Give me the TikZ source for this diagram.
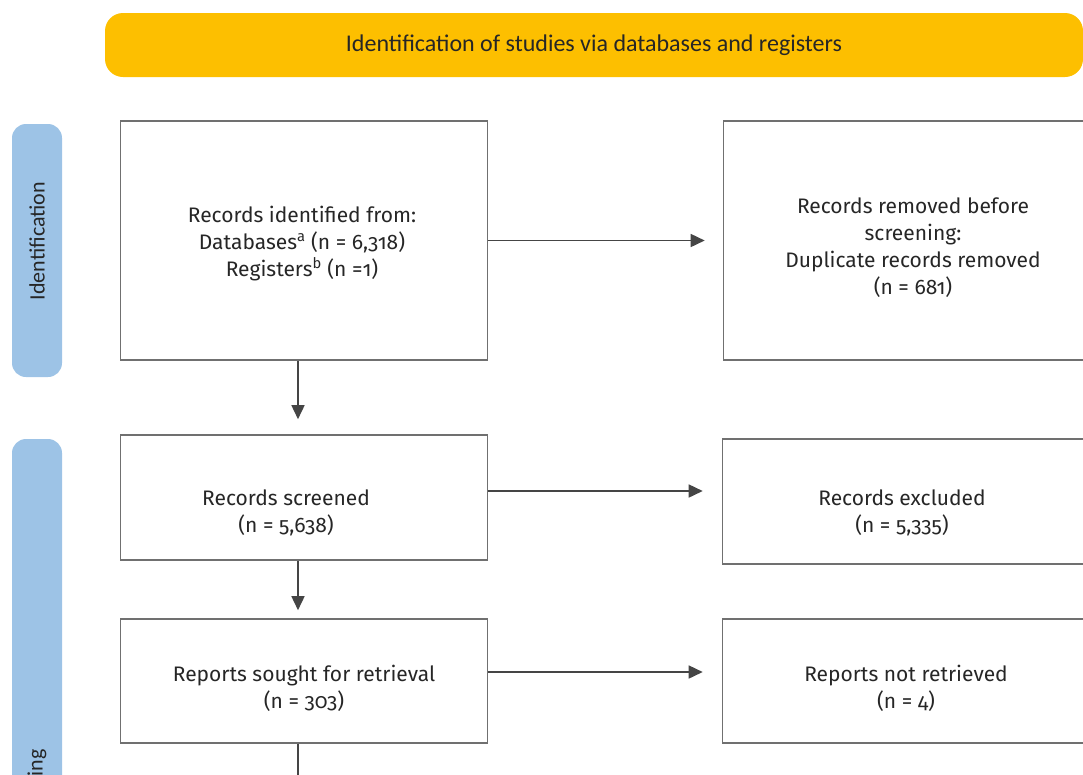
\documentclass[tikz,border=0pt]{standalone}
\usepackage{fontspec}
\setmainfont{Fira Sans}[Numbers=OldStyle]
\newfontfamily\phasefont{Carlito}
\usetikzlibrary{arrows.meta}

\definecolor{headyellow}{HTML}{FDBF00}
\definecolor{phaseblue}{HTML}{9DC3E6}
\definecolor{boxgray}{HTML}{707070}
\definecolor{arrowgray}{HTML}{454545}

\tikzset{
    box/.style={draw=boxgray, line width=1.6pt, minimum width=367pt, inner sep=0pt},
    boxtext/.style={align=center, inner sep=0pt, text=black!85, font=\fontsize{21}{27}\selectfont},
    phase/.style={fill=phaseblue, rounded corners=14pt, minimum height=50pt, inner sep=0pt},
    phasetext/.style={inner sep=0pt, text=black!85, font=\phasefont\fontsize{22}{26}\selectfont},
    arr/.style={draw=arrowgray, line width=1.6pt, -{Triangle[length=14pt,width=13pt]}},
}

\begin{document}
\begin{tikzpicture}[x=1pt, y=-1pt]
    \useasboundingbox (0,0) rectangle (1083,774);

    % header
    \node[fill=headyellow, rounded corners=18pt, minimum width=978pt, minimum height=64pt,
        text=black!85, font=\phasefont\fontsize{24}{28}\selectfont] (head) at (594,45)
        {Identification of studies via databases and registers};

    % phases
    \node[phase, rotate=90, minimum width=253pt] (idbar) at (37,250.5) {};
    \node[phasetext, rotate=90] (idtxt) at (37,241) {Identification};
    \node[phase, rotate=90, minimum width=700pt] (scbar) at (37,789) {};
    \node[phasetext, rotate=90] (sctxt) at (37,793) {Screening};

    % boxes
    \node[box, minimum height=239pt] (recid) at (304,240.5) {};
    \node[boxtext] (recidtxt) at (302,243.5)
        {Records identified from:\\ Databases\textsuperscript{a} (n = 6,318)\\ Registers\textsuperscript{b} (n =1)};
    \node[box, minimum height=239pt] (recrem) at (907,240.5) {};
    \node[boxtext] (recremtxt) at (913,248)
        {Records removed before\\ screening:\\ Duplicate records removed\\ (n = 681)};
    \node[box, minimum height=125pt] (screened) at (304,497.5) {};
    \node[boxtext] (screenedtxt) at (286,513) {Records screened\\ (n = 5,638)};
    \node[box, minimum height=125pt] (excluded) at (906,501.5) {};
    \node[boxtext] (excludedtxt) at (902,513) {Records excluded\\ (n = 5,335)};
    \node[box, minimum height=124pt] (sought) at (304,681) {};
    \node[boxtext] (soughttxt) at (304,688) {Reports sought for retrieval\\ (n = 303)};
    \node[box, minimum height=124pt] (notret) at (906,681) {};
    \node[boxtext] (notrettxt) at (906,688) {Reports not retrieved\\ (n = 4)};
    \coordinate (cut) at (298,800);

    % arrows
    \draw[arr, shorten >=18pt] (recid.east) -- (recid.east -| recrem.west);
    \draw[arr, shorten >=19pt] ([yshift=6.5pt]screened.east) -- ([yshift=6.5pt]screened.east -| excluded.west);
    \draw[arr, shorten >=19pt] ([yshift=9pt]sought.east) -- ([yshift=9pt]sought.east -| notret.west);
    \draw[arr, shorten >=15pt] ([xshift=-6pt]recid.south) -- ([xshift=-6pt]recid.south |- screened.north);
    \draw[arr, shorten >=8pt] ([xshift=-6pt]screened.south) -- ([xshift=-6pt]screened.south |- sought.north);
    \draw[arr] ([xshift=-6pt]sought.south) -- (cut);
\end{tikzpicture}
\end{document}
